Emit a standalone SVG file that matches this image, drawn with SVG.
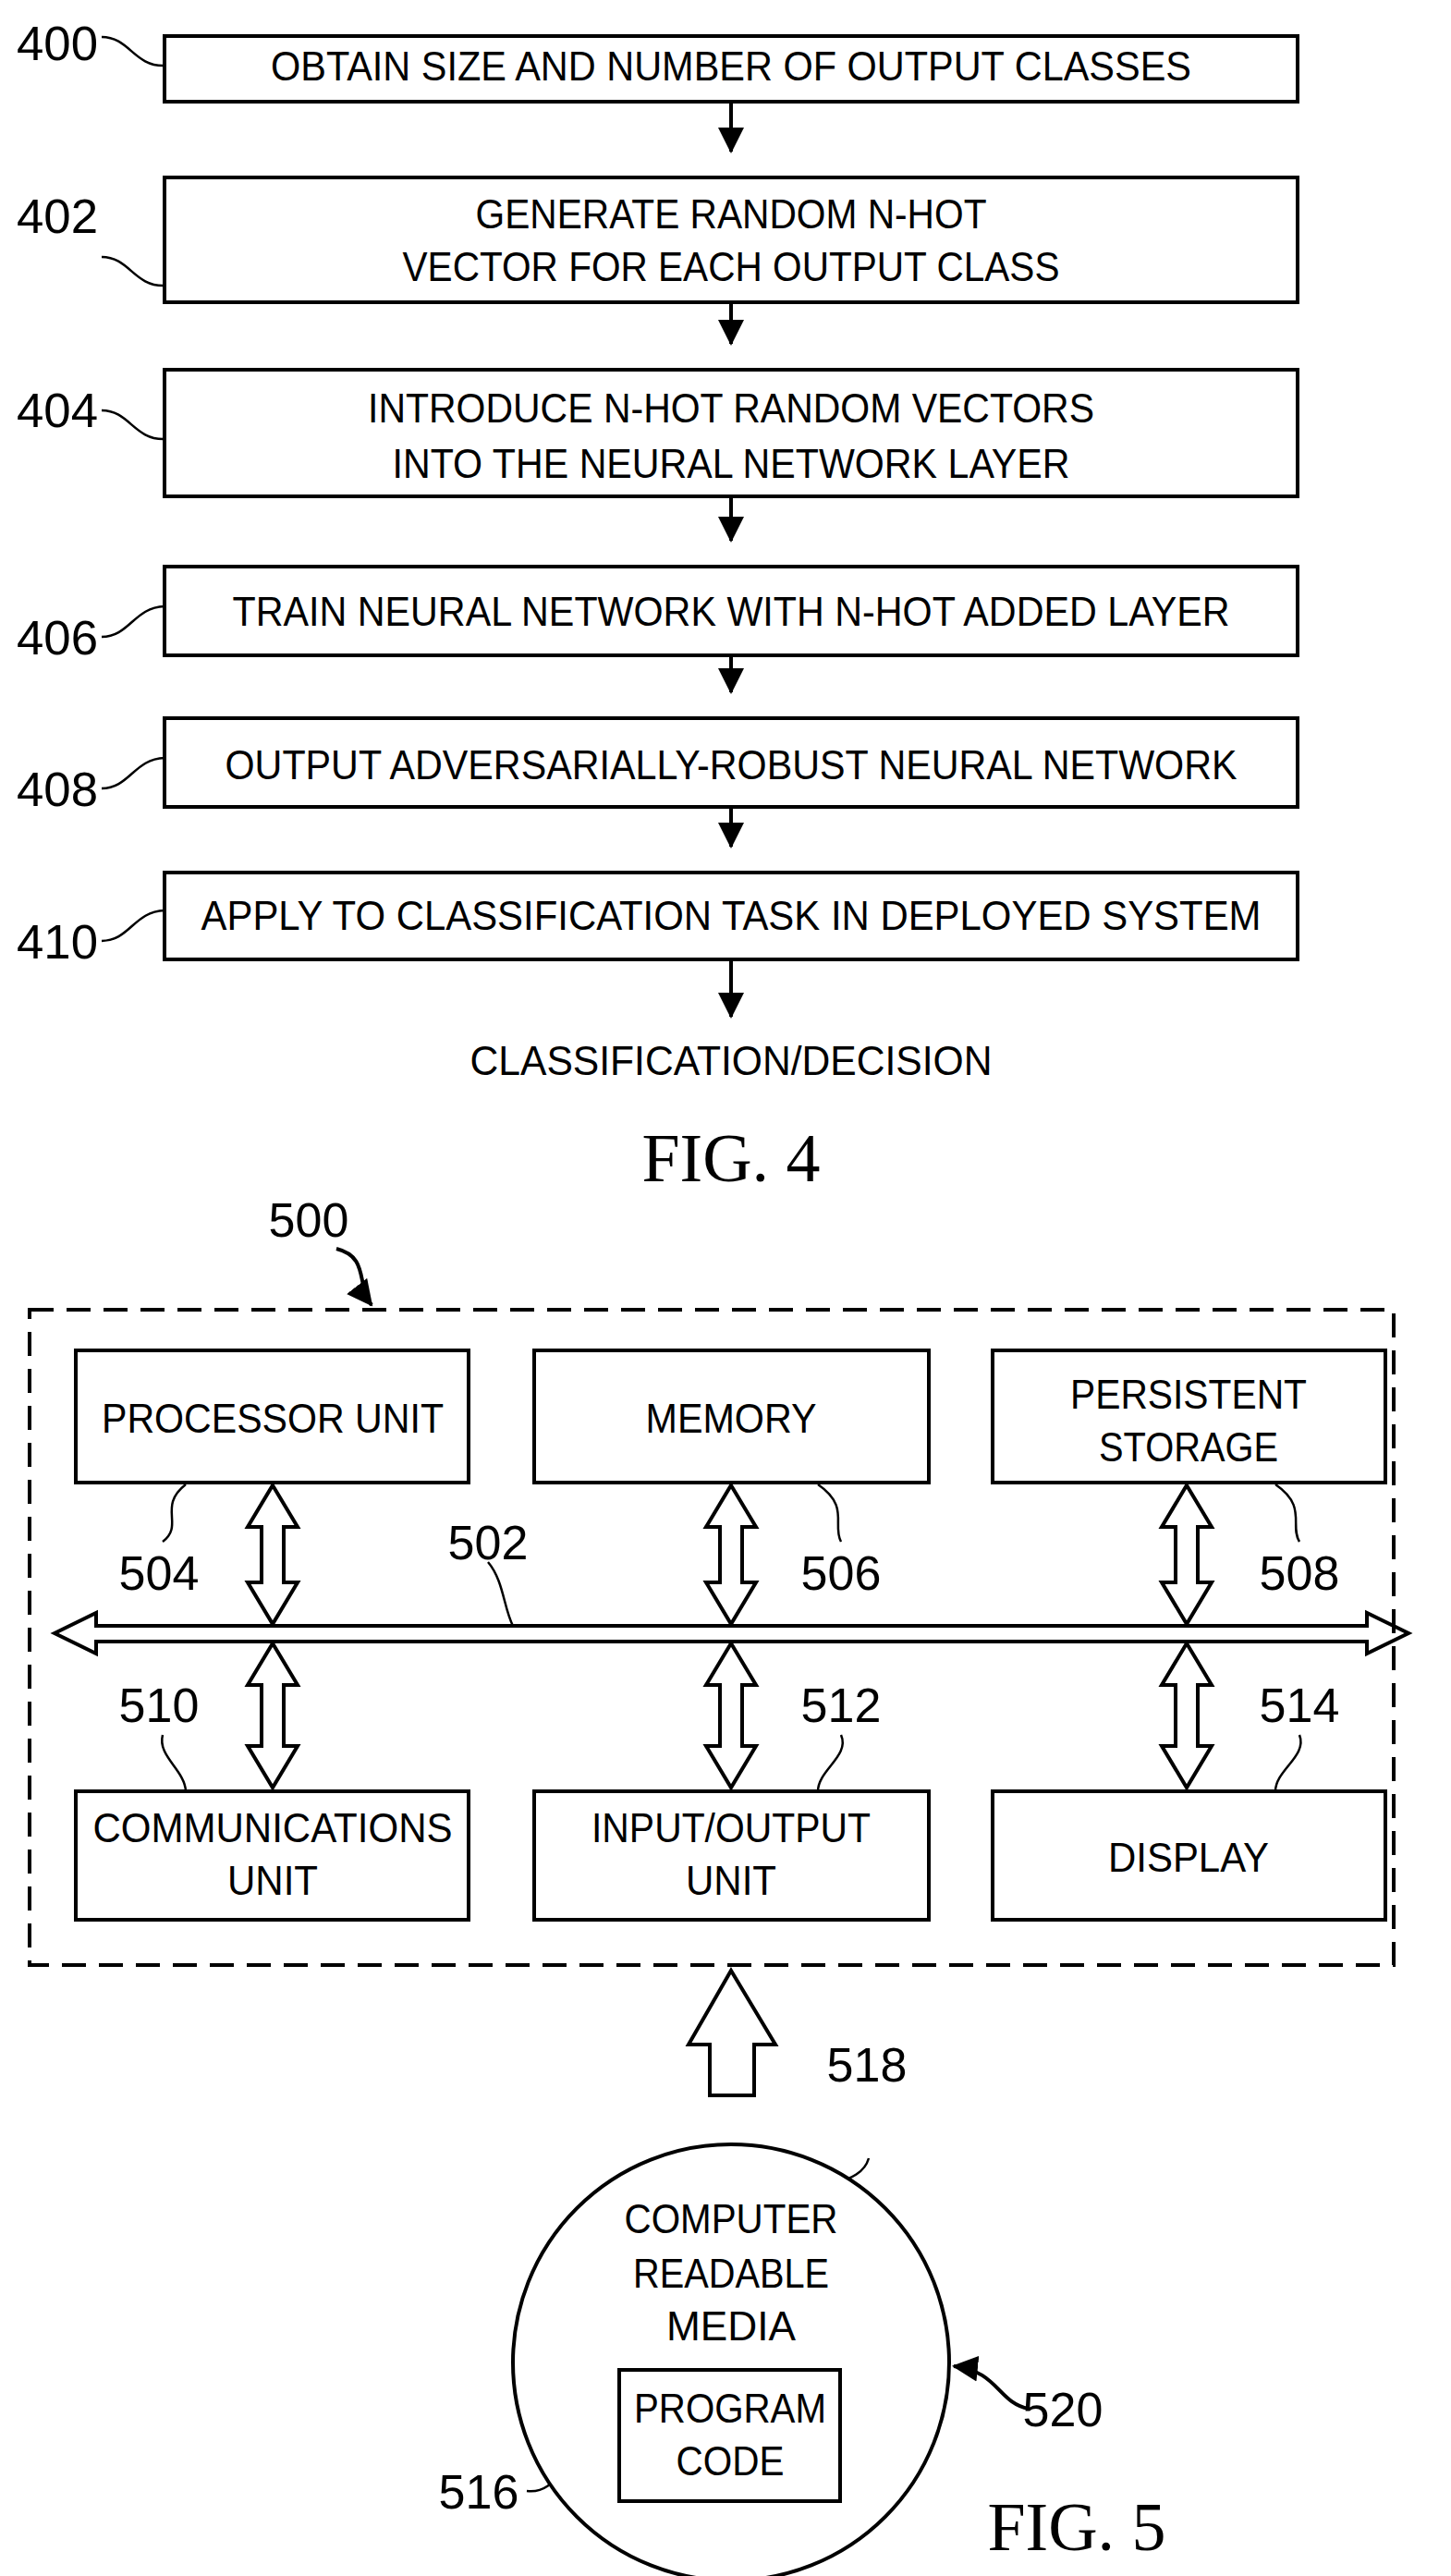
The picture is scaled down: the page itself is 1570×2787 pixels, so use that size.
<svg xmlns="http://www.w3.org/2000/svg" width="1570" height="2787" viewBox="0 0 1570 2787">
<style>
.b{fill:#fff;stroke:#000;stroke-width:4}
.t{font-family:"Liberation Sans Narrow","Liberation Sans",Arial,sans-serif;font-size:44px;text-anchor:middle;fill:#000}
.n{font-family:"Liberation Sans Narrow","Liberation Sans",Arial,sans-serif;font-size:52px;text-anchor:middle;fill:#000}
.f{font-family:"Liberation Serif","Times New Roman",serif;font-size:74px;text-anchor:middle;fill:#000}
.l{fill:none;stroke:#000;stroke-width:2.5}
.c{fill:none;stroke:#000;stroke-width:4}
.a{fill:#fff;stroke:#000;stroke-width:4;stroke-linejoin:miter}
</style>
<defs>
<marker id="ah" markerWidth="10" markerHeight="10" refX="9" refY="5" orient="auto" markerUnits="userSpaceOnUse" viewBox="0 0 10 10"><path d="M0,0L10,5L0,10z" fill="#000"/></marker>
<marker id="ah2" markerWidth="28" markerHeight="28" refX="26" refY="14" orient="auto" markerUnits="userSpaceOnUse" viewBox="0 0 28 28"><path d="M0,0L28,14L0,28z" fill="#000"/></marker>
</defs>
<g id="connectors">
<g stroke="#000" stroke-width="4">
<line x1="791" y1="110" x2="791" y2="164" marker-end="url(#ah2)"/>
<line x1="791" y1="327" x2="791" y2="372" marker-end="url(#ah2)"/>
<line x1="791" y1="537" x2="791" y2="585" marker-end="url(#ah2)"/>
<line x1="791" y1="709" x2="791" y2="749" marker-end="url(#ah2)"/>
<line x1="791" y1="873" x2="791" y2="916" marker-end="url(#ah2)"/>
<line x1="791" y1="1038" x2="791" y2="1100" marker-end="url(#ah2)"/>
</g>
<path class="l" d="M110,40 C140,40 145,72 178,71"/>
<path class="l" d="M110,278 C140,278 145,310 178,309"/>
<path class="l" d="M110,444 C140,444 145,476 178,475"/>
<path class="l" d="M110,689 C140,689 145,657 178,656"/>
<path class="l" d="M110,853 C140,853 145,821 178,820"/>
<path class="l" d="M110,1018 C140,1018 145,986 178,985"/>
<path class="c" d="M364,1351 C400,1360 385,1390 402,1412" marker-end="url(#ah2)"/>
<polygon class="a" points="59,1767 104,1745 104,1759 1479,1759 1479,1745 1524,1767 1479,1789 1479,1776 104,1776 104,1789"/>
<polygon class="a" points="295,1607 322,1652 307,1652 307,1712 322,1712 295,1757 268,1712 283,1712 283,1652 268,1652"/>
<polygon class="a" points="791,1607 818,1652 803,1652 803,1712 818,1712 791,1757 764,1712 779,1712 779,1652 764,1652"/>
<polygon class="a" points="1284,1607 1311,1652 1296,1652 1296,1712 1311,1712 1284,1757 1257,1712 1272,1712 1272,1652 1257,1652"/>
<polygon class="a" points="295,1778 322,1823 307,1823 307,1889 322,1889 295,1934 268,1889 283,1889 283,1823 268,1823"/>
<polygon class="a" points="791,1778 818,1823 803,1823 803,1889 818,1889 791,1934 764,1889 779,1889 779,1823 764,1823"/>
<polygon class="a" points="1284,1778 1311,1823 1296,1823 1296,1889 1311,1889 1284,1934 1257,1889 1272,1889 1272,1823 1257,1823"/>
<polygon class="a" points="791,2132 839,2212 816,2212 816,2267 768,2267 768,2212 745,2212"/>
<path class="l" d="M201,1606 C170,1630 200,1650 176,1668"/>
<path class="l" d="M528,1690 C545,1710 545,1740 555,1759"/>
<path class="l" d="M885,1606 C920,1630 900,1650 910,1668"/>
<path class="l" d="M1380,1606 C1415,1630 1395,1650 1406,1668"/>
<path class="l" d="M176,1877 C170,1900 200,1915 201,1938"/>
<path class="l" d="M910,1877 C920,1900 885,1915 885,1938"/>
<path class="l" d="M1406,1877 C1415,1900 1380,1915 1380,1938"/>
<path class="l" d="M877,2395 C870,2355 930,2370 940,2335"/>
<path class="l" d="M570,2695 C610,2700 610,2640 670,2637"/>
<path class="c" d="M1113,2606 C1080,2600 1080,2565 1032,2560" marker-end="url(#ah2)"/>
</g>
<g id="n400"><rect class="b" x="178" y="39" width="1226" height="71"/><text class="t" x="791" y="87" textLength="996" lengthAdjust="spacingAndGlyphs">OBTAIN SIZE AND NUMBER OF OUTPUT CLASSES</text><text class="n" x="62" y="65" textLength="88" lengthAdjust="spacingAndGlyphs">400</text></g>
<g id="n402"><rect class="b" x="178" y="192" width="1226" height="135"/><text class="t" x="791" y="247" textLength="553" lengthAdjust="spacingAndGlyphs">GENERATE RANDOM N-HOT</text><text class="t" x="791" y="304" textLength="711" lengthAdjust="spacingAndGlyphs">VECTOR FOR EACH OUTPUT CLASS</text><text class="n" x="62" y="252" textLength="88" lengthAdjust="spacingAndGlyphs">402</text></g>
<g id="n404"><rect class="b" x="178" y="400" width="1226" height="137"/><text class="t" x="791" y="457" textLength="786" lengthAdjust="spacingAndGlyphs">INTRODUCE N-HOT RANDOM VECTORS</text><text class="t" x="791" y="517" textLength="733" lengthAdjust="spacingAndGlyphs">INTO THE NEURAL NETWORK LAYER</text><text class="n" x="62" y="462" textLength="88" lengthAdjust="spacingAndGlyphs">404</text></g>
<g id="n406"><rect class="b" x="178" y="613" width="1226" height="96"/><text class="t" x="791" y="677" textLength="1079" lengthAdjust="spacingAndGlyphs">TRAIN NEURAL NETWORK WITH N-HOT ADDED LAYER</text><text class="n" x="62" y="708" textLength="88" lengthAdjust="spacingAndGlyphs">406</text></g>
<g id="n408"><rect class="b" x="178" y="777" width="1226" height="96"/><text class="t" x="791" y="843" textLength="1095" lengthAdjust="spacingAndGlyphs">OUTPUT ADVERSARIALLY-ROBUST NEURAL NETWORK</text><text class="n" x="62" y="872" textLength="88" lengthAdjust="spacingAndGlyphs">408</text></g>
<g id="n410"><rect class="b" x="178" y="944" width="1226" height="94"/><text class="t" x="791" y="1006" textLength="1147" lengthAdjust="spacingAndGlyphs">APPLY TO CLASSIFICATION TASK IN DEPLOYED SYSTEM</text><text class="n" x="62" y="1037" textLength="88" lengthAdjust="spacingAndGlyphs">410</text></g>
<g id="out"><text class="t" x="791" y="1163" textLength="565" lengthAdjust="spacingAndGlyphs">CLASSIFICATION/DECISION</text></g>
<text class="f" x="791" y="1278">FIG. 4</text>
<g id="n500"><rect x="32" y="1417" width="1476" height="709" fill="none" stroke="#000" stroke-width="4" stroke-dasharray="26,14"/><text class="n" x="334" y="1338">500</text></g>
<g id="n504"><rect class="b" x="82" y="1461" width="425" height="143"/><text class="t" x="295" y="1550" textLength="370" lengthAdjust="spacingAndGlyphs">PROCESSOR UNIT</text><text class="n" x="172" y="1720">504</text></g>
<g id="n506"><rect class="b" x="578" y="1461" width="427" height="143"/><text class="t" x="791" y="1550" textLength="185" lengthAdjust="spacingAndGlyphs">MEMORY</text><text class="n" x="910" y="1720">506</text></g>
<g id="n508"><rect class="b" x="1074" y="1461" width="425" height="143"/><text class="t" x="1286" y="1524" textLength="256" lengthAdjust="spacingAndGlyphs">PERSISTENT</text><text class="t" x="1286" y="1581" textLength="194" lengthAdjust="spacingAndGlyphs">STORAGE</text><text class="n" x="1406" y="1720">508</text></g>
<g id="n502"><text class="n" x="528" y="1687">502</text></g>
<g id="n510"><rect class="b" x="82" y="1938" width="425" height="139"/><text class="t" x="295" y="1993" textLength="389" lengthAdjust="spacingAndGlyphs">COMMUNICATIONS</text><text class="t" x="295" y="2050" textLength="98" lengthAdjust="spacingAndGlyphs">UNIT</text><text class="n" x="172" y="1863">510</text></g>
<g id="n512"><rect class="b" x="578" y="1938" width="427" height="139"/><text class="t" x="791" y="1993" textLength="302" lengthAdjust="spacingAndGlyphs">INPUT/OUTPUT</text><text class="t" x="791" y="2050" textLength="98" lengthAdjust="spacingAndGlyphs">UNIT</text><text class="n" x="910" y="1863">512</text></g>
<g id="n514"><rect class="b" x="1074" y="1938" width="425" height="139"/><text class="t" x="1286" y="2025" textLength="174" lengthAdjust="spacingAndGlyphs">DISPLAY</text><text class="n" x="1406" y="1863">514</text></g>
<g id="n520"><circle cx="791" cy="2556" r="236" fill="#fff" stroke="#000" stroke-width="4"/><text class="t" x="791" y="2416" textLength="231" lengthAdjust="spacingAndGlyphs">COMPUTER</text><text class="t" x="791" y="2475" textLength="212" lengthAdjust="spacingAndGlyphs">READABLE</text><text class="t" x="791" y="2532" textLength="140" lengthAdjust="spacingAndGlyphs">MEDIA</text><text class="n" x="1150" y="2625">520</text><text class="n" x="938" y="2252">518</text></g>
<g id="n516"><rect class="b" x="670" y="2564" width="239" height="142"/><text class="t" x="790" y="2621" textLength="208" lengthAdjust="spacingAndGlyphs">PROGRAM</text><text class="t" x="790" y="2678" textLength="117" lengthAdjust="spacingAndGlyphs">CODE</text><text class="n" x="518" y="2714">516</text></g>
<text class="f" x="1165" y="2759">FIG. 5</text>
</svg>
